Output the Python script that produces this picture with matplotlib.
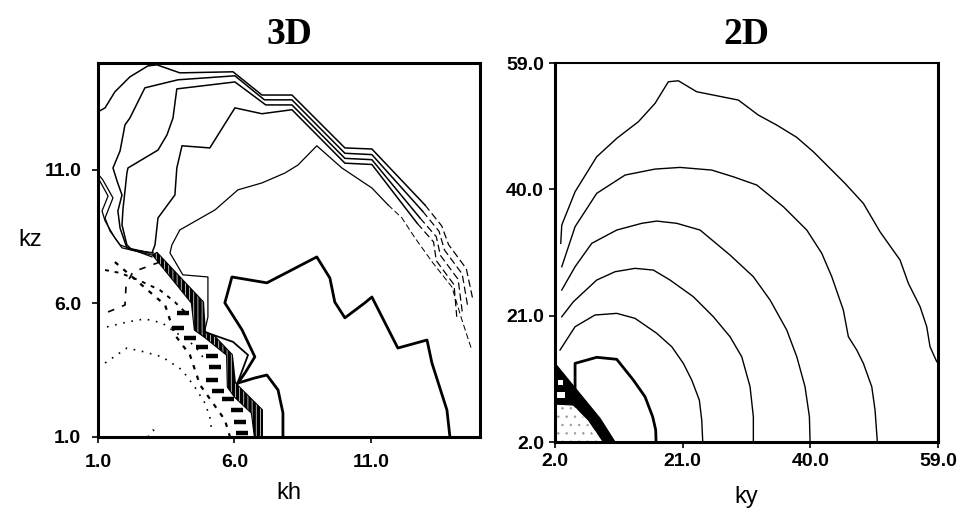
import matplotlib.pyplot as plt

# ---------------- 3D panel: contour lines (kh, kz) ----------------
a_kh = [1.0, 1.26, 1.62, 2.17, 2.83, 3.16, 4.0, 5.95, 7.01, 8.11, 10.05, 11.04, 12.98, 13.6, 13.85, 14.5, 14.75]
a_kz = [13.17, 13.32, 13.92, 14.48, 14.89, 14.93, 14.63, 14.67, 13.8, 13.8, 11.82, 11.78, 9.69, 8.9, 8.2, 7.3, 6.1]

b_kh = [2.9, 2.06, 1.81, 1.73, 1.88, 1.7, 1.55, 1.81, 1.99, 2.17, 2.72, 3.93, 6.02, 7.1, 8.11, 10.05, 11.04, 12.9, 13.5, 13.7, 14.35, 14.55]
b_kz = [7.89, 8.08, 8.82, 9.46, 10.06, 10.58, 11.07, 11.71, 12.68, 12.94, 14.07, 14.37, 14.52, 13.62, 13.62, 11.62, 11.57, 9.45, 8.7, 8.0, 7.1, 5.9]

c_kh = [3.02, 2.25, 2.06, 1.88, 1.92, 1.99, 2.06, 2.1, 3.2, 3.53, 3.75, 3.89, 6.02, 7.15, 8.11, 10.05, 11.04, 12.8, 13.4, 13.55, 14.2, 14.35]
c_kz = [7.89, 8.0, 8.19, 8.94, 9.57, 10.21, 10.88, 11.07, 11.74, 12.31, 12.94, 14.03, 14.29, 13.43, 13.43, 11.43, 11.38, 9.2, 8.5, 7.8, 6.9, 5.7]

d_kh = [2.98, 3.09, 3.2, 3.82, 3.89, 4.08, 5.1, 6.02, 7.01, 8.11, 10.05, 11.04, 12.7, 13.3, 13.4, 14.05, 14.15]
d_kz = [7.89, 8.19, 9.2, 10.06, 11.07, 11.9, 11.82, 13.32, 13.1, 13.25, 11.25, 11.2, 9.0, 8.3, 7.6, 6.7, 5.5]

e_kh = [4.92, 5.03, 5.03, 4.11, 3.64, 3.71, 4.0, 5.29, 6.13, 7.01, 7.85, 8.33, 9.02, 9.32, 9.94, 11.04, 11.63,
        12.14, 12.62, 13.28, 13.97, 14.34, 14.7]
e_kz = [5.01, 5.49, 6.99, 7.07, 7.89, 8.19, 8.75, 9.5, 10.25, 10.51, 10.88, 11.18, 11.9, 11.63, 11.07, 10.32, 9.69,
        9.2, 8.45, 7.51, 6.62, 5.38, 4.26]

z1_kh = [1.0, 1.07, 1.37, 1.15, 1.26, 1.62, 1.88, 2.98]
z1_kz = [10.7, 10.58, 10.02, 9.46, 9.09, 8.45, 8.08, 7.81]
z2_kh = [1.0, 1.18, 1.55, 1.26, 1.44, 1.81, 2.98]
z2_kz = [10.85, 10.62, 9.95, 9.2, 8.71, 8.19, 7.74]

f_kh = [6.13, 6.39, 6.75, 6.28, 5.65, 5.91, 7.19, 8.04, 9.02, 9.5, 9.68, 10.05, 10.78, 11.04, 11.99, 13.06, 13.24, 13.79, 13.9]
f_kz = [3.02, 3.4, 4.0, 5.01, 6.02, 6.99, 6.77, 7.22, 7.74, 6.95, 6.05, 5.46, 6.02, 6.24, 4.33, 4.63, 3.77, 2.01, 1.0]

g_kh = [4.92, 5.95, 6.5, 6.13]
g_kz = [4.93, 4.56, 4.07, 3.06]

h_kh = [6.13, 6.75, 7.19, 7.6, 7.78, 7.78]
h_kz = [3.02, 3.21, 3.32, 2.76, 1.9, 1.0]

band_l_kh = [3.02, 4.44, 4.55, 4.92, 5.73, 5.76, 6.02, 6.64, 6.75]
band_l_kz = [7.81, 6.02, 5.01, 4.74, 4.07, 2.87, 2.5, 1.9, 1.0]
band_r_kh = [3.16, 4.85, 4.92, 5.29, 5.91, 6.02, 7.01, 7.01]
band_r_kz = [7.89, 6.05, 4.93, 4.74, 4.07, 3.02, 2.01, 1.0]

# short horizontal strokes hugging the band on its left
tick_kh = [3.93, 4.11, 4.37, 4.81, 5.18, 5.29, 5.18, 5.4, 5.76, 6.09, 6.2, 6.28]
tick_kz = [5.08, 5.64, 4.71, 4.37, 4.03, 3.62, 3.13, 2.72, 2.42, 2.01, 1.56, 1.15]

dash2_kh = [1.62, 3.46, 3.82, 4.37, 4.74, 5.65, 5.84]
dash2_kz = [7.55, 5.94, 4.82, 4.07, 2.95, 1.64, 1.0]
dash3_kh = [1.37, 1.99, 2.03, 2.28, 3.27]
dash3_kz = [5.68, 5.94, 6.69, 7.18, 7.55]
dash4_kh = [1.26, 1.81, 2.47, 3.27, 3.82, 4.19]
dash4_kz = [7.25, 7.14, 6.88, 6.5, 6.05, 5.68]

dot1_kh = [1.33, 2.1, 2.72, 3.35, 3.82, 4.3, 4.66, 4.92]
dot1_kz = [5.12, 5.31, 5.42, 5.27, 4.93, 4.63, 4.26, 3.88]
dot2_kh = [1.26, 2.06, 2.72, 3.35, 4.08, 4.55, 4.92, 5.1, 5.18]
dot2_kz = [3.77, 4.33, 4.18, 4.0, 3.51, 2.87, 2.27, 1.75, 1.15]
dot3_kh = [2.83, 3.02, 3.2]
dot3_kz = [1.0, 1.26, 1.15]

# ---------------- 2D panel: contour lines (ky, kz) ----------------
r1_ky = [2.85, 3.0, 4.98, 8.2, 11.18, 14.4, 16.88, 18.86, 20.35, 23.08, 29.28, 32.25, 34.99, 37.97, 40.44, 45.15,
         47.88, 50.36, 53.34, 54.58, 56.32, 57.31, 57.8, 58.8]
r1_kz = [31.88, 34.63, 39.64, 44.9, 47.67, 50.17, 52.93, 56.18, 56.33, 54.68, 53.43, 51.17, 49.67, 47.82, 45.65, 40.9,
         37.89, 33.62, 29.37, 25.86, 22.35, 19.34, 16.33, 14.08]
r2_ky = [3.0, 4.98, 8.2, 12.42, 16.88, 20.6, 25.32, 28.53, 32.02, 35.98, 39.46, 41.69, 43.18, 44.9, 45.65, 46.9,
         47.88, 49.13, 49.62, 49.96]
r2_kz = [28.36, 34.38, 39.4, 42.15, 43.05, 43.3, 42.9, 41.89, 40.65, 37.38, 33.88, 30.38, 26.86, 21.85, 17.83, 15.83,
         13.83, 10.32, 6.81, 2.0]
r3_ky = [3.0, 4.98, 7.46, 11.18, 14.9, 17.13, 20.11, 23.58, 28.04, 31.51, 34.0, 36.48, 37.97, 39.2, 39.85, 39.95]
r3_kz = [24.86, 28.36, 31.88, 33.88, 34.89, 35.23, 34.89, 33.88, 30.12, 26.86, 23.35, 18.84, 14.83, 10.32, 5.8, 2.0]
r4_ky = [3.0, 4.73, 8.2, 10.93, 13.9, 16.63, 19.11, 22.58, 25.56, 28.04, 29.78, 31.02, 31.51, 31.51]
r4_kz = [20.84, 23.1, 26.36, 27.61, 28.12, 27.86, 26.36, 23.85, 20.84, 17.83, 14.83, 10.32, 5.8, 2.0]
r5_ky = [2.74, 4.98, 7.95, 11.18, 13.9, 17.13, 19.37, 21.09, 22.34, 23.47, 23.83, 23.98]
r5_kz = [15.83, 19.34, 21.1, 21.35, 20.6, 18.35, 16.33, 13.83, 11.32, 8.32, 5.31, 2.0]
r6_ky = [4.98, 4.98, 8.2, 11.18, 13.65, 15.39, 16.53, 16.98, 17.03]
r6_kz = [7.82, 13.83, 14.74, 14.44, 11.32, 8.81, 5.8, 3.8, 2.0]

blk_ky = [2.0, 4.23, 6.46, 8.7, 10.93, 9.19, 6.96, 4.73, 2.0]
blk_kz = [13.83, 11.07, 8.32, 5.56, 2.0, 2.0, 5.31, 7.56, 7.7]
hole1_ky = [2.45, 3.2, 3.2, 2.45]
hole1_kz = [10.6, 10.6, 11.3, 11.3]
hole2_ky = [2.3, 3.5, 3.5, 2.3]
hole2_kz = [8.6, 8.6, 9.5, 9.5]
notch_ky = [4.9, 8.5]
notch_kz = [7.0, 2.6]
stip_ky = [2.0, 2.0, 4.73, 9.19]
stip_kz = [2.0, 7.7, 7.56, 2.0]

tick_font = dict(family='Liberation Sans', weight='bold', size=14)
lab_font = dict(family='Liberation Sans', size=17)
title_font = dict(family='Liberation Serif', weight='bold', size=27)

plt.rcParams['hatch.linewidth'] = 0.5

fig = plt.figure(figsize=(9.69, 5.12), dpi=100)
ax1 = fig.add_axes([0.1011, 0.1465, 0.3942, 0.7305])
ax2 = fig.add_axes([0.5728, 0.1367, 0.3953, 0.7402])


def line(ax, x, y, lw=1.1, cut=None, **kw):
    if cut is None:
        ax.plot(x, y, color='k', lw=lw, **kw)
    else:
        ax.plot(x[:cut + 1], y[:cut + 1], color='k', lw=lw, **kw)
        ax.plot(x[cut:], y[cut:], color='k', lw=lw * 0.8, ls=(0, (6, 3)))


# --- 3D ---
line(ax1, a_kh, a_kz, cut=12)
line(ax1, b_kh, b_kz, cut=17)
line(ax1, c_kh, c_kz, cut=17)
line(ax1, d_kh, d_kz, cut=12)
line(ax1, e_kh, e_kz, lw=0.9, cut=16)
line(ax1, z1_kh, z1_kz, lw=0.9)
line(ax1, z2_kh, z2_kz, lw=0.9)
line(ax1, f_kh, f_kz, lw=2.0)
line(ax1, g_kh, g_kz, lw=1.3)
line(ax1, h_kh, h_kz, lw=2.0)
band_x = band_l_kh + band_r_kh[::-1]
band_y = band_l_kz + band_r_kz[::-1]
ax1.fill(band_x, band_y, facecolor='k', edgecolor='k', lw=1.5)
ax1.fill(band_x, band_y, facecolor='none', edgecolor='white', hatch='||||', lw=0)
ax1.plot(tick_kh, tick_kz, ls='none', marker='_', ms=9, mew=3.2, color='k')
ax1.plot(dash2_kh, dash2_kz, color='k', lw=1.6, ls=(0, (2, 3)))
ax1.plot(dash3_kh, dash3_kz, color='k', lw=1.2, ls=(0, (4, 5)))
ax1.plot(dash4_kh, dash4_kz, color='k', lw=1.4, ls=(0, (2, 3)))
ax1.plot(dot1_kh, dot1_kz, color='k', lw=1.2, ls=(0, (1, 4)))
ax1.plot(dot2_kh, dot2_kz, color='k', lw=1.2, ls=(0, (1, 4)))
ax1.plot(dot3_kh, dot3_kz, color='k', lw=1.2, ls=(0, (1, 4)))

ax1.set_xlim(1, 15)
ax1.set_ylim(1, 15)
ax1.set_xticks([1, 6, 11])
ax1.set_xticklabels(['1.0', '6.0', '11.0'], fontdict=tick_font)
ax1.set_yticks([1, 6, 11])
ax1.set_yticklabels(['1.0', '6.0', '11.0'], fontdict=tick_font)
ax1.tick_params(direction='out', length=4, width=1.2, pad=8)
ax1.set_title('3D', fontdict=title_font, pad=14)
ax1.set_xlabel('kh', fontdict=lab_font, va='center')
ax1.xaxis.set_label_coords(0.5, -0.15)
ax1.set_ylabel('kz', fontdict=lab_font, rotation=0, va='center', ha='center')
ax1.yaxis.set_label_coords(-0.178, 0.527)

# --- 2D ---
ax2.fill(stip_ky, stip_kz, facecolor='white', edgecolor='0.6', hatch='..', lw=0)
for ky, kz in [(r1_ky, r1_kz), (r2_ky, r2_kz), (r3_ky, r3_kz), (r4_ky, r4_kz), (r5_ky, r5_kz)]:
    ax2.plot(ky, kz, color='k', lw=1.0)
ax2.plot(r6_ky, r6_kz, color='k', lw=2.0)
ax2.fill(blk_ky, blk_kz, color='k', lw=0.8)
ax2.fill(hole1_ky, hole1_kz, color='white', lw=0)
ax2.fill(hole2_ky, hole2_kz, color='white', lw=0)
ax2.plot(notch_ky, notch_kz, color='white', lw=2.2, ls=(0, (2, 2.5)))

ax2.set_xlim(2, 59)
ax2.set_ylim(2, 59)
ax2.set_xticks([2, 21, 40, 59])
ax2.set_xticklabels(['2.0', '21.0', '40.0', '59.0'], fontdict=tick_font)
ax2.set_yticks([2, 21, 40, 59])
ax2.set_yticklabels(['2.0', '21.0', '40.0', '59.0'], fontdict=tick_font)
ax2.tick_params(direction='out', length=4, width=1.2, pad=4)
ax2.set_title('2D', fontdict=title_font, pad=14)
ax2.set_xlabel('ky', fontdict=lab_font, va='center')
ax2.xaxis.set_label_coords(0.5, -0.145)

for ax in (ax1, ax2):
    for s in ax.spines.values():
        s.set_linewidth(2.2)
ax2.spines['top'].set_linewidth(1.5)

fig.savefig('out.png', dpi=100)
